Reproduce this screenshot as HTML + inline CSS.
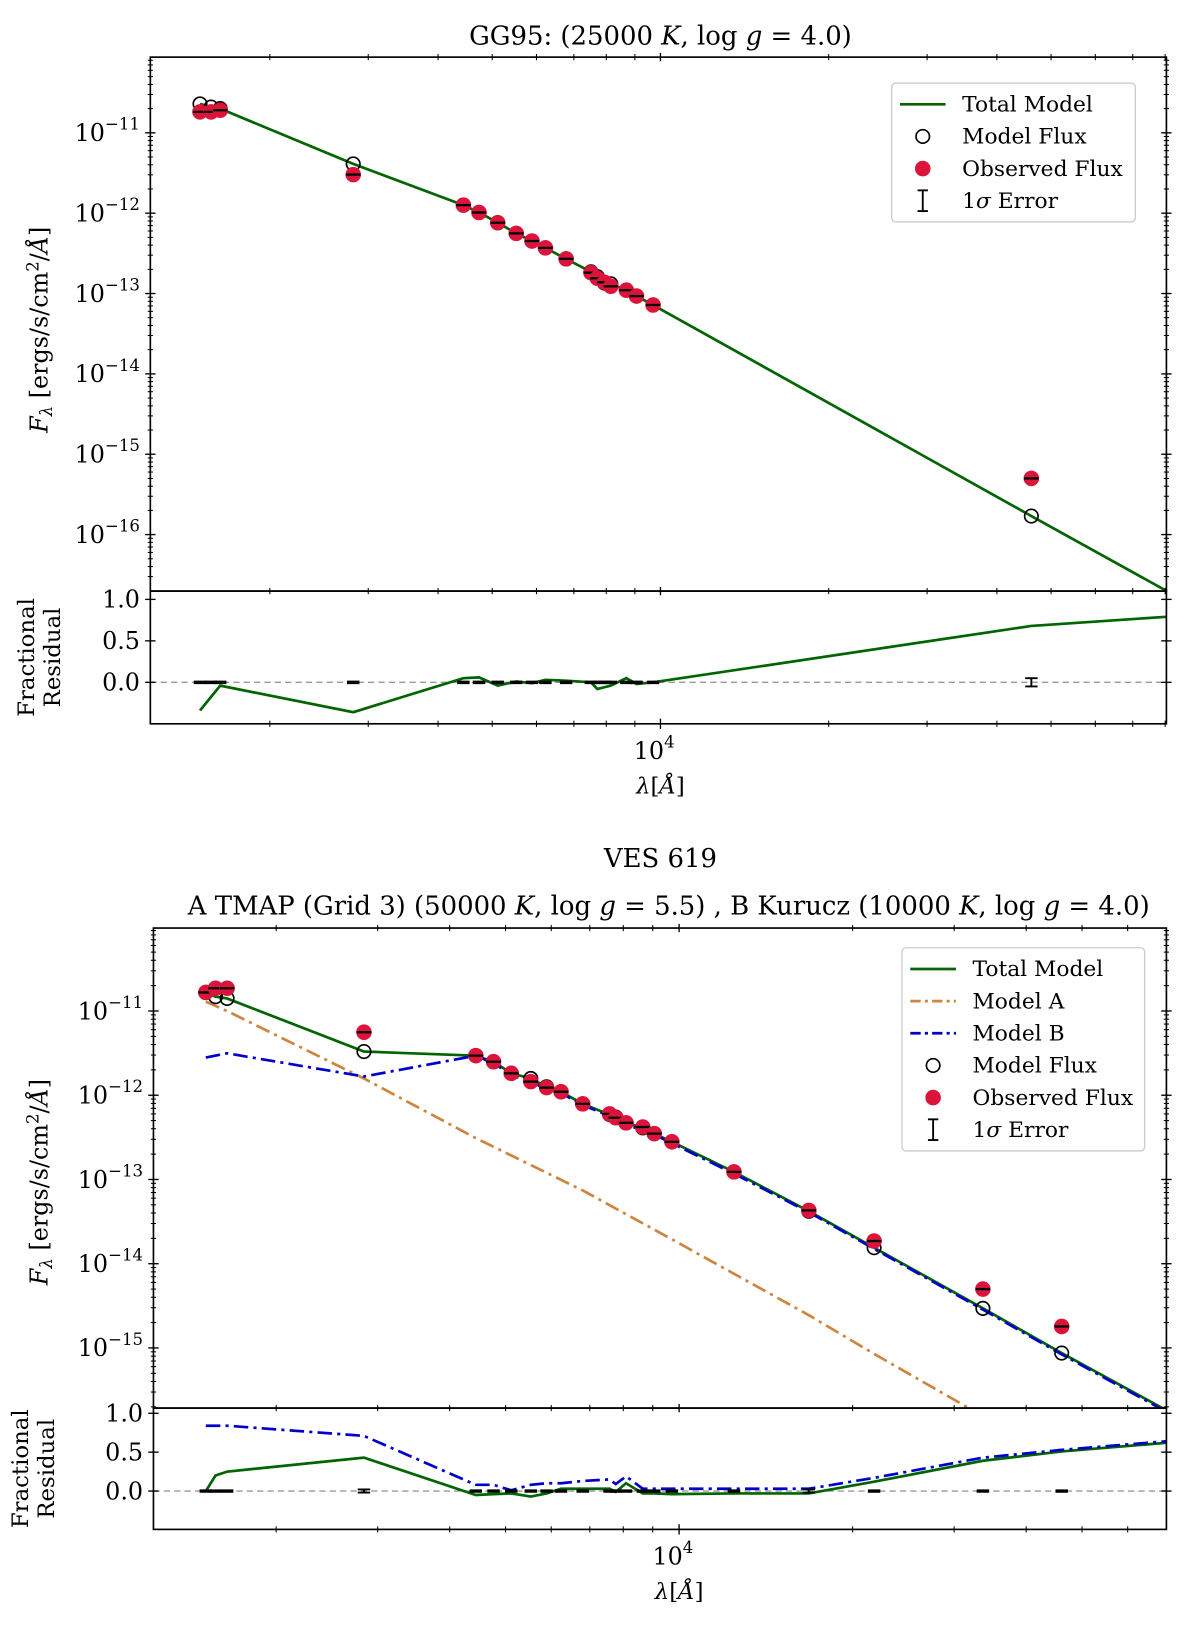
<!DOCTYPE html>
<html><head><meta charset="utf-8"><style>
html,body{margin:0;padding:0;background:#fff}
svg{display:block}
text{font-family:"DejaVu Serif","Liberation Serif",serif;fill:#000}
</style></head><body>
<svg id="c" width="1200" height="1628" viewBox="0 0 1157.4 1570" xmlns="http://www.w3.org/2000/svg"></svg>
<script>
// ---------- Top chart data (GG95) ----------
const topWave = [1500,1570,1630,2820,4440,4735,5115,5520,5890,6225,6780,7510,7710,7940,8150,8690,9060,9700,46100];
const topObs = [1.82e-11,1.82e-11,1.91e-11,3.02e-12,1.26e-12,1.02e-12,7.6e-13,5.6e-13,4.5e-13,3.7e-13,2.7e-13,1.82e-13,1.55e-13,1.38e-13,1.23e-13,1.10e-13,9.3e-14,7.2e-14,5.0e-16];
const topModel = [2.29e-11,2.09e-11,2.0e-11,4.1e-12,1.26e-12,1.02e-12,7.6e-13,5.6e-13,4.5e-13,3.7e-13,2.7e-13,1.86e-13,1.62e-13,1.35e-13,1.32e-13,1.10e-13,9.3e-14,7.2e-14,1.7e-16];
const topTotalWave = [1500,1570,1630,2820,4440,4735,5115,5520,5890,6225,6780,7510,7710,7940,8150,8690,9060,9700,46100,80400];
const topTotal = [2.29e-11,2.09e-11,2.0e-11,4.1e-12,1.26e-12,1.02e-12,7.6e-13,5.6e-13,4.5e-13,3.7e-13,2.7e-13,1.86e-13,1.62e-13,1.35e-13,1.32e-13,1.10e-13,9.3e-14,7.2e-14,1.7e-16,2.0e-17];
const topResWave = [1500,1630,2820,4440,4735,5115,5520,5890,6225,6780,7510,7710,8150,8690,9060,9700,46100,80400];
const topRes = [-0.34,-0.04,-0.36,0.05,0.06,-0.04,0.01,-0.01,0.03,0.02,0.0,-0.08,-0.04,0.05,-0.02,0.0,0.68,0.79];
const topResErr = [0.01,0.01,0.01,0.01,0.01,0.01,0.01,0.01,0.01,0.01,0.01,0.01,0.01,0.01,0.01,0.01,0.01,0.01,0.05];

// ---------- Bottom chart data (VES 619) ----------
const botWave = [1510,1570,1644,2840,4440,4765,5115,5530,5890,6240,6805,7575,7765,8090,8650,9055,9715,12450,16790,21790,33650,46100];
const botObs = [1.66e-11,1.86e-11,1.86e-11,5.6e-12,2.95e-12,2.5e-12,1.82e-12,1.45e-12,1.23e-12,1.10e-12,7.9e-13,6.0e-13,5.4e-13,4.7e-13,4.2e-13,3.5e-13,2.8e-13,1.23e-13,4.3e-14,1.86e-14,5.0e-15,1.8e-15];
const botModel = [1.66e-11,1.48e-11,1.41e-11,3.3e-12,2.95e-12,2.5e-12,1.82e-12,1.58e-12,1.26e-12,1.10e-12,7.9e-13,5.9e-13,5.5e-13,4.7e-13,4.1e-13,3.5e-13,2.8e-13,1.23e-13,4.2e-14,1.55e-14,2.95e-15,8.7e-16];
const botTotalWave = [1510,1570,1644,2840,4440,4765,5115,5530,5890,6240,6805,7575,7765,8090,8650,9055,9715,12450,16790,21790,33650,46100,70000];
const botTotal = [1.66e-11,1.48e-11,1.41e-11,3.3e-12,2.95e-12,2.5e-12,1.82e-12,1.58e-12,1.26e-12,1.10e-12,7.9e-13,5.9e-13,5.5e-13,4.7e-13,4.1e-13,3.5e-13,2.8e-13,1.23e-13,4.2e-14,1.55e-14,2.95e-15,8.7e-16,1.82e-16];
const modelAWave = [1510,1644,2840,4440,6805,9715,16790,21790,33650];
const modelA = [1.29e-11,1.0e-11,1.58e-12,3.1e-13,7.4e-14,1.95e-14,2.45e-15,8.5e-16,1.55e-16];
const modelBWave = [1510,1644,2840,4440,4765,5115,5530,5890,6240,6805,7575,8090,9055,9715,12450,16790,21790,33650,46100,70000];
const modelB = [2.8e-12,3.15e-12,1.67e-12,2.95e-12,2.4e-12,1.75e-12,1.42e-12,1.2e-12,1.06e-12,7.6e-13,5.7e-13,4.5e-13,3.4e-13,2.7e-13,1.17e-13,4.1e-14,1.5e-14,2.85e-15,8.4e-16,1.75e-16];
const botResWave = [1510,1570,1644,2840,4440,4765,5115,5530,5890,6240,6805,7575,7765,8090,8650,9055,9715,12450,16790,21790,33650,46100,70000];
const botResTotal = [0.0,0.2,0.25,0.43,-0.05,-0.04,-0.03,-0.07,-0.03,0.03,0.03,0.03,-0.01,0.1,-0.03,-0.03,-0.04,-0.03,-0.03,0.12,0.39,0.51,0.62];
const botResB = [0.84,0.84,0.84,0.71,0.08,0.08,0.01,0.08,0.1,0.1,0.13,0.15,0.09,0.19,0.03,0.03,0.03,0.03,0.03,0.17,0.43,0.53,0.64];
const botResErr = [0.01,0.01,0.01,0.02,0.01,0.01,0.01,0.01,0.01,0.01,0.01,0.01,0.01,0.01,0.01,0.01,0.01,0.01,0.02,0.01,0.01,0.01];
const yTickExpTop = [-11,-12,-13,-14,-15,-16];
const yTickExpBot = [-11,-12,-13,-14,-15];
const resTicks = [1.0,0.5,0.0];

const NS = "http://www.w3.org/2000/svg";
const svg = document.getElementById('c');
function mk(tag, attrs, parent){const e=document.createElementNS(NS,tag);for(const k in attrs)e.setAttribute(k,attrs[k]);(parent||svg).appendChild(e);return e;}
let clipId=0;
function clip(x0,y0,x1,y1){const id='cp'+(clipId++);const cp=mk('clipPath',{id:id});mk('rect',{x:x0,y:y0,width:x1-x0,height:y1-y0},cp);return 'url(#'+id+')';}
function path(xs,ys,fx,fy,attrs,g){let d='';for(let i=0;i<xs.length;i++){d+=(i?'L':'M')+fx(xs[i]).toFixed(1)+','+fy(ys[i]).toFixed(1);}const p=mk('path',Object.assign({d:d,fill:'none'},attrs),g);return p;}

function drawChart(cfg){
  const {L,R,T,M,B,x0,dec,y11,ydec,r0,rsc} = cfg;
  const fx = w => x0 + dec*(Math.log10(w)-4);
  const fy = v => y11 + ydec*(-11 - Math.log10(v));
  const fr = r => r0 - rsc*r;
  const gMain = mk('g',{'clip-path':clip(L,T,R,M)});
  
  
  const gRes = mk('g',{'clip-path':clip(L,M,R,B)});
  
  
  const zl = mk('line',{x1:L,x2:R,y1:fr(0),y2:fr(0),stroke:'#999','stroke-width':1.3,'stroke-dasharray':'6,4'},gRes);
  
  
  cfg.lines(gMain,gRes,fx,fy,fr);
  for(let i=0;i<cfg.wave.length;i++){
    const c = mk('circle',{cx:fx(cfg.wave[i]),cy:fy(cfg.model[i]),r:6.5,fill:'none',stroke:'#000','stroke-width':1.6},gMain);
    
    
  }
  for(let i=0;i<cfg.wave.length;i++){
    const c = mk('circle',{cx:fx(cfg.wave[i]),cy:fy(cfg.obs[i]),r:7.5,fill:'#dc143c'},gMain);
    
    
    const e = mk('line',{x1:fx(cfg.wave[i])-7,x2:fx(cfg.wave[i])+7,y1:fy(cfg.obs[i]),y2:fy(cfg.obs[i]),stroke:'#000','stroke-width':2.2},gMain);
    
    
  }
  for(let i=0;i<cfg.wave.length;i++){
    const x=fx(cfg.wave[i]), e=cfg.err[i];
    const g=mk('g',{stroke:'#000','stroke-width':1.8},gRes);
    
    
    mk('line',{x1:x,x2:x,y1:fr(e),y2:fr(-e)},g);
    mk('line',{x1:x-6,x2:x+6,y1:fr(e),y2:fr(e)},g);
    mk('line',{x1:x-6,x2:x+6,y1:fr(-e),y2:fr(-e)},g);
  }
  const f1 = mk('rect',{x:L,y:T,width:R-L,height:M-T,fill:'none',stroke:'#000','stroke-width':1.6});
  
  
  const f2 = mk('rect',{x:L,y:M,width:R-L,height:B-M,fill:'none',stroke:'#000','stroke-width':1.6});
  
  
  // y minor ticks
  for(let ex=-18; ex<=-8; ex++){
    for(let m=2;m<=9;m++){
      const y=fy(m*Math.pow(10,ex));
      if(y>T+1&&y<M-1){
        mk('line',{x1:L-2.5,x2:L+2.5,y1:y,y2:y,stroke:'#000','stroke-width':1});
        mk('line',{x1:R-2.5,x2:R+2.5,y1:y,y2:y,stroke:'#000','stroke-width':1});
      }
    }
  }
  cfg.yexp.forEach(ex=>{
    const y=fy(Math.pow(10,ex));
    mk('line',{x1:L-5,x2:L+5,y1:y,y2:y,stroke:'#000','stroke-width':1.3});
    mk('line',{x1:R-5,x2:R+5,y1:y,y2:y,stroke:'#000','stroke-width':1.3});
    const t=mk('text',{x:L-10,y:y+8,'text-anchor':'end','font-size':23});
    
    
    t.textContent='10';
    const s=mk('tspan',{dy:-11,'font-size':16},t); s.textContent='\u2212'+(-ex);
  });
  resTicks.forEach(r=>{
    const y=fr(r);
    mk('line',{x1:L-5,x2:L+5,y1:y,y2:y,stroke:'#000','stroke-width':1.3});
    mk('line',{x1:R-5,x2:R+5,y1:y,y2:y,stroke:'#000','stroke-width':1.3});
    const t=mk('text',{x:L-10,y:y+8,'text-anchor':'end','font-size':23});
    
    
    t.textContent=r.toFixed(1);
  });
  const xt=fx(10000);
  [[T,4],[M,4],[B,5]].forEach(([y,s])=>mk('line',{x1:xt,x2:xt,y1:y-s,y2:y+s,stroke:'#000','stroke-width':1.3}));
  [2000,3000,4000,5000,6000,7000,8000,9000,20000,30000,40000,50000,60000,70000,80000].forEach(w=>{
    const x=fx(w); if(x>L+1&&x<R-1){mk('line',{x1:x,x2:x,y1:B-3,y2:B+3,stroke:'#000','stroke-width':1});mk('line',{x1:x,x2:x,y1:M-3,y2:M+3,stroke:'#000','stroke-width':1});mk('line',{x1:x,x2:x,y1:T-3,y2:T+3,stroke:'#000','stroke-width':1});}
  });
  const xl=mk('text',{x:xt-6,y:B+34,'text-anchor':'middle','font-size':23});
  
  
  xl.textContent='10';
  const xs=mk('tspan',{dy:-11,'font-size':16},xl); xs.textContent='4';
  const xlab=mk('text',{x:xt,y:B+67,'text-anchor':'middle','font-size':22});
  
  
  xlab.innerHTML='<tspan font-style="italic">λ</tspan>[<tspan font-style="italic">Å</tspan>]';
  const yl=mk('text',{x:0,y:0,'text-anchor':'middle','font-size':23,transform:`translate(${cfg.ylx},${cfg.ylc}) rotate(-90)`});
  
  
  yl.innerHTML='<tspan font-style="italic">F</tspan><tspan font-style="italic" font-size="16" dy="4">λ</tspan><tspan dy="-4"> [ergs/s/cm</tspan><tspan font-size="16" dy="-9">2</tspan><tspan dy="9">/</tspan><tspan font-style="italic">Å</tspan>]';
  const rl=mk('text',{x:0,y:0,'text-anchor':'middle','font-size':22,transform:`translate(${cfg.rlx},${(M+B)/2}) rotate(-90)`});
  
  
  rl.innerHTML='<tspan x="0" dy="0">Fractional</tspan><tspan x="0" dy="25">Residual</tspan>';
}

drawChart({name:'gg95',L:145,R:1125,T:55,M:570,B:698,x0:637,dec:539,y11:128,ydec:77.5,r0:658,rsc:80,ylx:46,ylc:318,rlx:33,
  wave:topWave,obs:topObs,model:topModel,err:topResErr,yexp:yTickExpTop,
  lines:(g,gr,fx,fy,fr)=>{
    const p=path(topTotalWave,topTotal,fx,fy,{stroke:'#006400','stroke-width':2.6},g);
    
    
    const q=path(topResWave,topRes,fx,fr,{stroke:'#006400','stroke-width':2.6},gr);
    
    
  }});
drawChart({name:'ves619',L:148,R:1125,T:895,M:1358,B:1475,x0:655,dec:556,y11:975,ydec:81.25,r0:1438,rsc:75,ylx:46,ylc:1140,rlx:27,
  wave:botWave,obs:botObs,model:botModel,err:botResErr,yexp:yTickExpBot,
  lines:(g,gr,fx,fy,fr)=>{
    const a=path(modelAWave,modelA,fx,fy,{stroke:'#cd853f','stroke-width':2.6,'stroke-dasharray':'14,5,3,5'},g);
    
    
    const p=path(botTotalWave,botTotal,fx,fy,{stroke:'#006400','stroke-width':2.6},g);
    
    
    const b=path(modelBWave,modelB,fx,fy,{stroke:'#0000cd','stroke-width':2.6,'stroke-dasharray':'14,5,3,5'},g);
    
    
    const q=path(botResWave,botResTotal,fx,fr,{stroke:'#006400','stroke-width':2.6},gr);
    
    
    const r=path(botResWave,botResB,fx,fr,{stroke:'#0000cd','stroke-width':2.6,'stroke-dasharray':'14,5,3,5'},gr);
    
    
  }});

function title(x,y,html,name){const t=mk('text',{x:x,y:y,'text-anchor':'middle','font-size':25});t.innerHTML=html;}
title(637,43,'GG95: (25000 <tspan font-style="italic">K</tspan>, log <tspan font-style="italic">g</tspan> = 4.0)','top-chart-title');
title(637,836,'VES 619','bottom-chart-title');
title(645,882,'A TMAP (Grid 3) (50000 <tspan font-style="italic">K</tspan>, log <tspan font-style="italic">g</tspan> = 5.5) , B Kurucz (10000 <tspan font-style="italic">K</tspan>, log <tspan font-style="italic">g</tspan> = 4.0)','bottom-chart-subtitle');

function legend(x,y,w,rowH,items,name){
  const g=mk('g',{});
  
  
  mk('rect',{x:x,y:y,width:w,height:rowH*items.length+10,rx:4,fill:'#fff',stroke:'#ccc','stroke-width':1.3},g);
  items.forEach((it,i)=>{
    const cy=y+5+rowH*(i+0.5), hx=x+8;
    const e=mk('g',{},g);
    
    
    if(it.t==='line') mk('line',{x1:hx,x2:hx+44,y1:cy,y2:cy,stroke:it.c,'stroke-width':2.6,'stroke-dasharray':it.d||'none'},e);
    if(it.t==='circle') mk('circle',{cx:hx+22,cy:cy,r:6.5,fill:'none',stroke:'#000','stroke-width':1.6},e);
    if(it.t==='dot') mk('circle',{cx:hx+22,cy:cy,r:7.5,fill:'#dc143c'},e);
    if(it.t==='err'){mk('line',{x1:hx+22,x2:hx+22,y1:cy-10,y2:cy+10,stroke:'#000','stroke-width':1.8},e);mk('line',{x1:hx+17,x2:hx+27,y1:cy-10,y2:cy-10,stroke:'#000','stroke-width':1.8},e);mk('line',{x1:hx+17,x2:hx+27,y1:cy+10,y2:cy+10,stroke:'#000','stroke-width':1.8},e);}
    const t=mk('text',{x:x+68,y:cy+7,'font-size':21},e); t.innerHTML=it.l;
  });
}
legend(860,80,235,31,[
  {t:'line',c:'#006400',l:'Total Model'},{t:'circle',l:'Model Flux'},{t:'dot',l:'Observed Flux'},{t:'err',l:'1<tspan font-style="italic">σ</tspan> Error'}],'top-legend');
legend(870,914,234,31,[
  {t:'line',c:'#006400',l:'Total Model'},{t:'line',c:'#cd853f',d:'10,4,3,4',l:'Model A'},{t:'line',c:'#0000cd',d:'10,4,3,4',l:'Model B'},{t:'circle',l:'Model Flux'},{t:'dot',l:'Observed Flux'},{t:'err',l:'1<tspan font-style="italic">σ</tspan> Error'}],'bottom-legend');
</script>
</body></html>
